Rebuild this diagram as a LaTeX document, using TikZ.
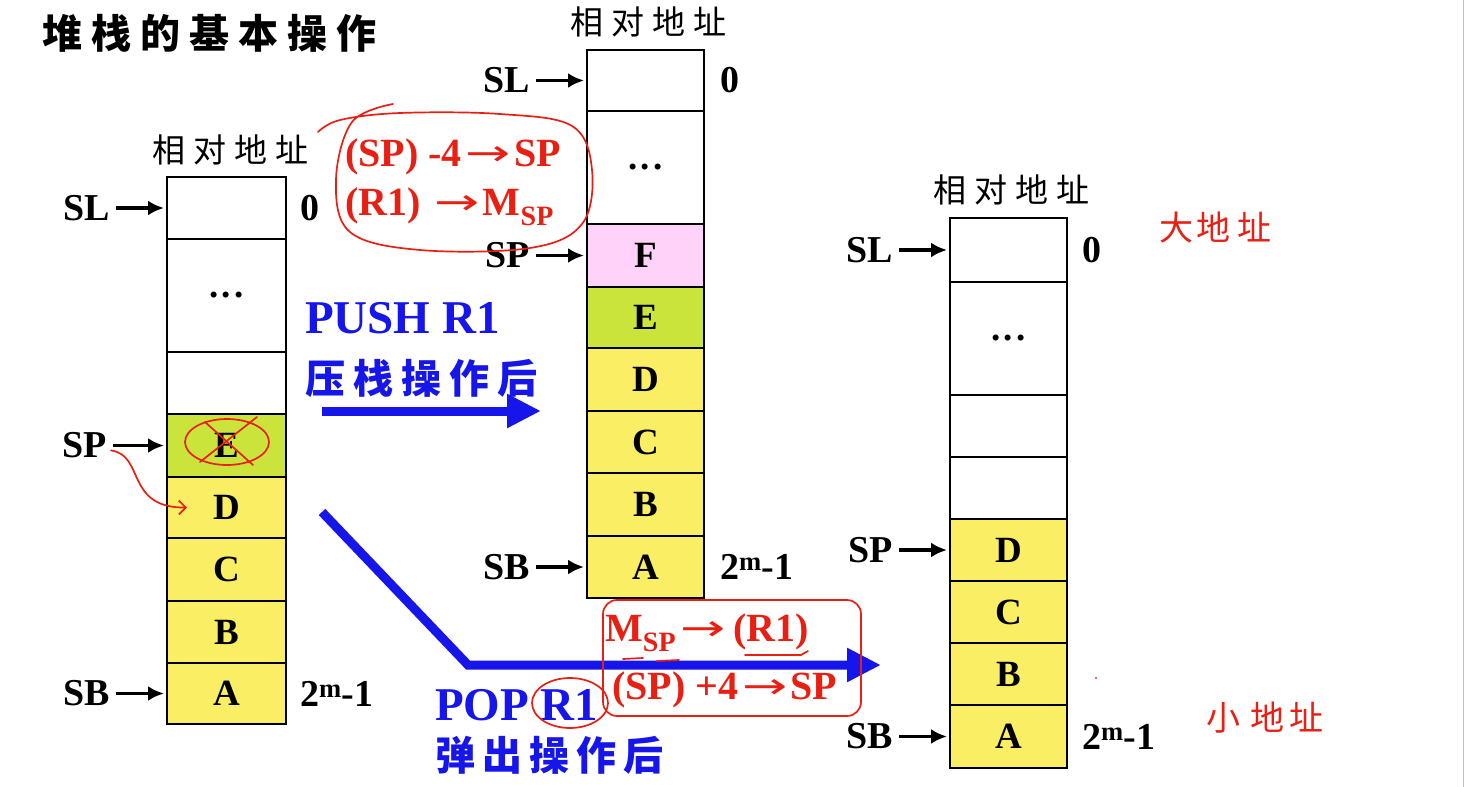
\documentclass[tikz,border=0pt]{standalone}
\usepackage{graphicx}
\usepackage{fontspec}
\setmainfont{Liberation Serif}
\newfontfamily\cjk{Noto Sans CJK SC}
\newfontfamily\dejavu{DejaVu Sans}
\usetikzlibrary{arrows.meta}
\definecolor{cyel}{RGB}{250,238,100}
\definecolor{cgrn}{RGB}{202,228,60}
\definecolor{cpnk}{RGB}{255,210,250}
\definecolor{cblue}{RGB}{22,22,235}
\definecolor{cred}{RGB}{232,32,20}
\newcommand\fs[1]{\fontsize{#1}{#1}\selectfont}
\newcommand\dotsrow{.\kern3pt.\kern3pt.}
\newcommand\rar{\kern4pt\raisebox{1pt}{\scalebox{1.35}[0.9]{\dejavu\mdseries →}}\kern3pt}
\begin{document}
\begin{tikzpicture}[x=1pt,y=-1pt,
  cell/.style={draw, line width=2.8pt, inner sep=0pt, outer sep=0pt, font=\fs{37}\bfseries},
  lbl/.style={font=\fs{38}\bfseries, inner sep=0pt},
  num/.style={font=\fs{38}\bfseries, inner sep=0pt, anchor=west},
  head/.style={font=\cjk\fs{33}, inner sep=0pt},
  ptr/.style={line width=3.2pt, -{Latex[length=16pt,width=15pt]}},
  bluearrow/.style={cblue, line width=9pt, -{Triangle[length=34pt,width=32pt]}},
  bluetxt/.style={cblue, inner sep=0pt, anchor=west},
  redtxt/.style={cred, inner sep=0pt, anchor=west, font=\fs{40}\bfseries},
  pen/.style={cred, line width=1.7pt, line cap=round, line join=round},
  hand/.style={cred, inner sep=0pt, font=\cjk\fs{34}}]
\useasboundingbox (0,0) rectangle (1468,787);
\fill[white] (0,0) rectangle (1468,787);
\draw[gray!50, line width=1pt] (1463,0) -- (1463,787);

% title
\node[inner sep=0pt, anchor=west, font=\cjk\bfseries\fs{40}] (title) at (42,33)
  {堆\kern9pt 栈\kern9pt 的\kern9pt 基\kern9pt 本\kern9pt 操\kern9pt 作};

% ---------- column 1 ----------
\node[cell, minimum width=119pt, minimum height=62pt] (a1sl) at (226.5,208) {};
\node[cell, minimum width=119pt, minimum height=113pt] (a1dt) at (226.5,295.5) {\dotsrow};
\node[cell, minimum width=119pt, minimum height=62pt] (a1em) at (226.5,383) {};
\node[cell, minimum width=119pt, minimum height=63pt, fill=cgrn] (a1E) at (226.5,445.5) {E};
\node[cell, minimum width=119pt, minimum height=61pt, fill=cyel] (a1D) at (226.5,507.5) {D};
\node[cell, minimum width=119pt, minimum height=63pt, fill=cyel] (a1C) at (226.5,569.5) {C};
\node[cell, minimum width=119pt, minimum height=62pt, fill=cyel] (a1B) at (226.5,632) {B};
\node[cell, minimum width=119pt, minimum height=61pt, fill=cyel] (a1A) at (226.5,693.5) {A};
\node[head] (h1) at ([xshift=4pt,yshift=27pt]a1sl.north) {相\kern8pt 对\kern8pt 地\kern8pt 址};
\node[lbl, anchor=east] (sl1) at ([xshift=-57pt]a1sl.west) {SL};
\node[lbl, anchor=east] (sp1) at ([xshift=-60pt]a1E.west) {SP};
\node[lbl, anchor=east] (sb1) at ([xshift=-57pt]a1A.west) {SB};
\draw[ptr] ([xshift=6pt]sl1.east) -- ([xshift=-3pt]a1sl.west);
\draw[ptr] ([xshift=6pt]sp1.east) -- ([xshift=-3pt]a1E.west);
\draw[ptr] ([xshift=6pt]sb1.east) -- ([xshift=-3pt]a1A.west);
\node[num] (z1) at ([xshift=14pt]a1sl.east) {0};
\node[num] (m1) at ([xshift=14pt]a1A.east) {2\textsuperscript{m}-1};

% ---------- column 2 ----------
\node[cell, minimum width=117pt, minimum height=61pt] (a2sl) at (645.5,80.5) {};
\node[cell, minimum width=117pt, minimum height=113pt] (a2dt) at (645.5,167.5) {\dotsrow};
\node[cell, minimum width=117pt, minimum height=63pt, fill=cpnk] (a2F) at (645.5,255.5) {F};
\node[cell, minimum width=117pt, minimum height=61pt, fill=cgrn] (a2E) at (645.5,317.5) {E};
\node[cell, minimum width=117pt, minimum height=63pt, fill=cyel] (a2D) at (645.5,379.5) {D};
\node[cell, minimum width=117pt, minimum height=62pt, fill=cyel] (a2C) at (645.5,442) {C};
\node[cell, minimum width=117pt, minimum height=63pt, fill=cyel] (a2B) at (645.5,504.5) {B};
\node[cell, minimum width=117pt, minimum height=62pt, fill=cyel] (a2A) at (645.5,567) {A};
\node[head] (h2) at ([xshift=3pt,yshift=28pt]a2sl.north) {相\kern8pt 对\kern8pt 地\kern8pt 址};
\node[lbl, anchor=east] (sl2) at ([xshift=-57pt]a2sl.west) {SL};
\node[lbl, anchor=east] (sp2) at ([xshift=-57pt]a2F.west) {SP};
\node[lbl, anchor=east] (sb2) at ([xshift=-57pt]a2A.west) {SB};
\draw[ptr] ([xshift=6pt]sl2.east) -- ([xshift=-3pt]a2sl.west);
\draw[ptr] ([xshift=6pt]sp2.east) -- ([xshift=-3pt]a2F.west);
\draw[ptr] ([xshift=6pt]sb2.east) -- ([xshift=-3pt]a2A.west);
\node[num] (z2) at ([xshift=16pt]a2sl.east) {0};
\node[num] (m2) at ([xshift=16pt]a2A.east) {2\textsuperscript{m}-1};

% ---------- column 3 ----------
\node[cell, minimum width=117pt, minimum height=64pt] (a3sl) at (1008.5,250) {};
\node[cell, minimum width=117pt, minimum height=113pt] (a3dt) at (1008.5,338.5) {\dotsrow};
\node[cell, minimum width=117pt, minimum height=62pt] (a3e1) at (1008.5,426) {};
\node[cell, minimum width=117pt, minimum height=62pt] (a3e2) at (1008.5,488) {};
\node[cell, minimum width=117pt, minimum height=62pt, fill=cyel] (a3D) at (1008.5,550) {D};
\node[cell, minimum width=117pt, minimum height=62pt, fill=cyel] (a3C) at (1008.5,612) {C};
\node[cell, minimum width=117pt, minimum height=62pt, fill=cyel] (a3B) at (1008.5,674) {B};
\node[cell, minimum width=117pt, minimum height=63pt, fill=cyel] (a3A) at (1008.5,736.5) {A};
\node[head] (h3) at ([xshift=3pt,yshift=28pt]a3sl.north) {相\kern8pt 对\kern8pt 地\kern8pt 址};
\node[lbl, anchor=east] (sl3) at ([xshift=-57pt]a3sl.west) {SL};
\node[lbl, anchor=east] (sp3) at ([xshift=-57pt]a3D.west) {SP};
\node[lbl, anchor=east] (sb3) at ([xshift=-57pt]a3A.west) {SB};
\draw[ptr] ([xshift=6pt]sl3.east) -- ([xshift=-3pt]a3sl.west);
\draw[ptr] ([xshift=6pt]sp3.east) -- ([xshift=-3pt]a3D.west);
\draw[ptr] ([xshift=6pt]sb3.east) -- ([xshift=-3pt]a3A.west);
\node[num] (z3) at ([xshift=15pt]a3sl.east) {0};
\node[num] (m3) at ([xshift=15pt]a3A.east) {2\textsuperscript{m}-1};

% ---------- blue operations ----------
\node[bluetxt, font=\fs{47}\bfseries] (push) at (305,318) {PUSH R1};
\node[bluetxt, font=\cjk\bfseries\fs{40}] (pushc) at (305,378) {压\kern8pt 栈\kern8pt 操\kern8pt 作\kern8pt 后};
\coordinate (ps) at (322,411);
\coordinate (pe) at (541,411);
\draw[bluearrow] (ps) -- (pe);

\node[bluetxt, font=\fs{47}\bfseries] (pop) at (435,705) {POP R1};
\node[bluetxt, font=\cjk\bfseries\fs{40}] (popc) at (435,755) {弹\kern7pt 出\kern7pt 操\kern7pt 作\kern7pt 后};
\coordinate (qs) at (322,512);
\coordinate (qm) at (468,665);
\coordinate (qe) at (881,665);
\draw[bluearrow, line join=miter] (qs) -- (qm) -- (qe);

% ---------- red formulas ----------
\node[redtxt] (f1) at (345,157) {(SP) -4\rar SP};
\node[redtxt] (f2) at (345,207) {(R1) \rar M\textsubscript{SP}};
\node[redtxt] (f3) at (605,633) {M\textsubscript{SP}\rar\kern5pt(R1)};
\node[redtxt] (f4) at (612,690) {(SP) +4\rar SP};

% ---------- red handwriting ----------
\draw[pen] plot[smooth, tension=0.6] coordinates {(393,104) (352,122) (336,180) (350,232) (420,250) (530,248) (582,224) (592,170) (572,126) (500,114) (400,113) (340,120) (318,132)};
\draw[pen, rounded corners=14pt] (603,600) rectangle (861,716);
\draw[pen] (570,703) ellipse [x radius=38pt, y radius=25pt];
\draw[pen] (623,659) -- (643,658);
\draw[pen] (657,661) -- (679,660);
\draw[pen] (745,655) -- (801,655) -- (808,651);
% crossed E
\draw[pen] (227,442) ellipse [x radius=42pt, y radius=23pt];
\draw[pen] (200,462) -- (257,417);
\draw[pen] (205,422) -- (253,465);
% SP moved to D
\draw[pen, -{Straight Barb[length=7pt,width=14pt]}] ([xshift=4pt,yshift=8pt]sp1.south east) .. controls (145,455) and (125,508) .. ([xshift=20pt]a1D.west);
\node[hand] (big) at (1215,228) {大\kern4pt 地\kern6pt 址};
\node[hand] (small) at (1265,718) {小\kern10pt 地\kern6pt 址};
\fill[cred!70] (1096,678) circle (1.3pt);
\end{tikzpicture}
\end{document}
